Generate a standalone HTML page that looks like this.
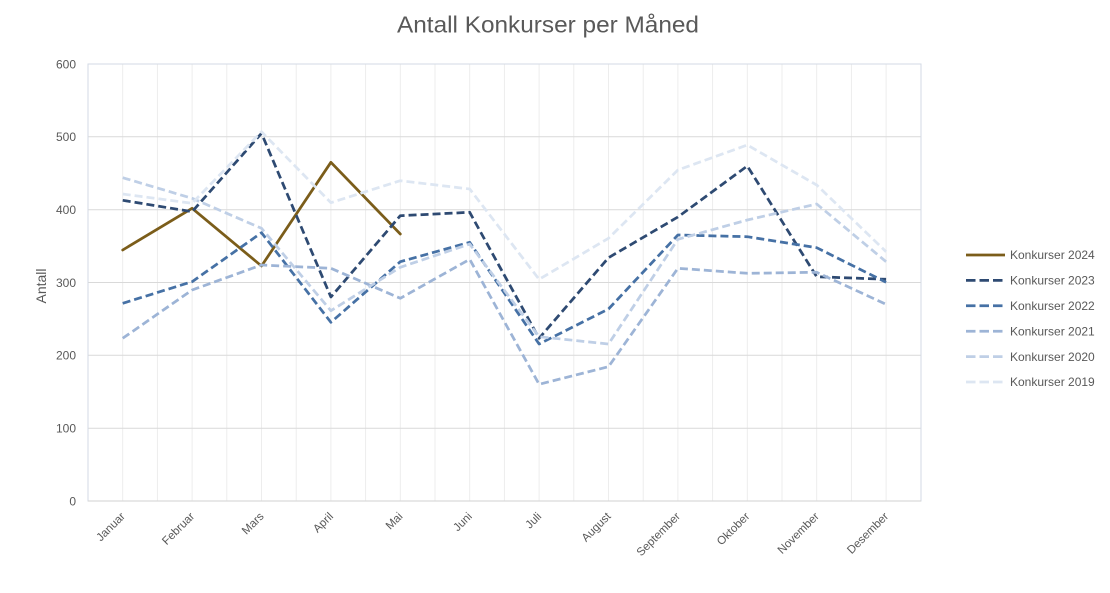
<!DOCTYPE html>
<html>
<head>
<meta charset="utf-8">
<style>
  html, body { margin:0; padding:0; background:#ffffff; }
  body { width:1110px; height:593px; overflow:hidden; }
  svg { display:block; font-family:"Liberation Sans", Arial, sans-serif; }
</style>
</head>
<body>
<svg width="1110" height="593" viewBox="0 0 1110 593" xmlns="http://www.w3.org/2000/svg">
  <rect x="0" y="0" width="1110" height="593" fill="#ffffff"/>

  <!-- Title -->
  <text x="548" y="32.5" text-anchor="middle" font-size="23" fill="#595959" textLength="302" lengthAdjust="spacingAndGlyphs">Antall Konkurser per Måned</text>

  <!-- vertical gridlines -->
  <g stroke="#EDEDED" stroke-width="1">
    <line x1="122.7" y1="64" x2="122.7" y2="501"/>
    <line x1="157.4" y1="64" x2="157.4" y2="501"/>
    <line x1="192.1" y1="64" x2="192.1" y2="501"/>
    <line x1="226.8" y1="64" x2="226.8" y2="501"/>
    <line x1="261.5" y1="64" x2="261.5" y2="501"/>
    <line x1="296.2" y1="64" x2="296.2" y2="501"/>
    <line x1="330.9" y1="64" x2="330.9" y2="501"/>
    <line x1="365.6" y1="64" x2="365.6" y2="501"/>
    <line x1="400.3" y1="64" x2="400.3" y2="501"/>
    <line x1="435.0" y1="64" x2="435.0" y2="501"/>
    <line x1="469.7" y1="64" x2="469.7" y2="501"/>
    <line x1="504.4" y1="64" x2="504.4" y2="501"/>
    <line x1="539.1" y1="64" x2="539.1" y2="501"/>
    <line x1="573.8" y1="64" x2="573.8" y2="501"/>
    <line x1="608.5" y1="64" x2="608.5" y2="501"/>
    <line x1="643.2" y1="64" x2="643.2" y2="501"/>
    <line x1="677.9" y1="64" x2="677.9" y2="501"/>
    <line x1="712.6" y1="64" x2="712.6" y2="501"/>
    <line x1="747.3" y1="64" x2="747.3" y2="501"/>
    <line x1="782.0" y1="64" x2="782.0" y2="501"/>
    <line x1="816.7" y1="64" x2="816.7" y2="501"/>
    <line x1="851.4" y1="64" x2="851.4" y2="501"/>
    <line x1="886.1" y1="64" x2="886.1" y2="501"/>
  </g>

  <!-- horizontal gridlines -->
  <g stroke="#D9D9D9" stroke-width="1">
    <line x1="88" y1="428.2" x2="921" y2="428.2"/>
    <line x1="88" y1="355.3" x2="921" y2="355.3"/>
    <line x1="88" y1="282.5" x2="921" y2="282.5"/>
    <line x1="88" y1="209.7" x2="921" y2="209.7"/>
    <line x1="88" y1="136.8" x2="921" y2="136.8"/>
  </g>

  <!-- plot border -->
  <rect x="88" y="64" width="833" height="437" fill="none" stroke="#D3DAE4" stroke-width="1"/>
  <line x1="88" y1="501" x2="921" y2="501" stroke="#D9D9D9" stroke-width="1.2"/>

  <!-- Y tick labels -->
  <g font-size="12" fill="#595959" text-anchor="end">
    <text x="76" y="505.3">0</text>
    <text x="76" y="432.5">100</text>
    <text x="76" y="359.6">200</text>
    <text x="76" y="286.8">300</text>
    <text x="76" y="214">400</text>
    <text x="76" y="141.1">500</text>
    <text x="76" y="68.3">600</text>
  </g>

  <!-- Y axis title -->
  <text transform="translate(46,286) rotate(-90)" text-anchor="middle" font-size="14" fill="#595959">Antall</text>

  <!-- X labels -->
  <g font-size="11.5" fill="#595959" text-anchor="end">
    <text transform="translate(125.7,517) rotate(-45)">Januar</text>
    <text transform="translate(195.1,517) rotate(-45)">Februar</text>
    <text transform="translate(264.5,517) rotate(-45)">Mars</text>
    <text transform="translate(333.9,517) rotate(-45)">April</text>
    <text transform="translate(403.3,517) rotate(-45)">Mai</text>
    <text transform="translate(472.7,517) rotate(-45)">Juni</text>
    <text transform="translate(542.1,517) rotate(-45)">Juli</text>
    <text transform="translate(611.5,517) rotate(-45)">August</text>
    <text transform="translate(680.9,517) rotate(-45)">September</text>
    <text transform="translate(750.3,517) rotate(-45)">Oktober</text>
    <text transform="translate(819.7,517) rotate(-45)">November</text>
    <text transform="translate(889.1,517) rotate(-45)">Desember</text>
  </g>

  <!-- Series -->
  <g fill="none" stroke-linejoin="round">
    <polyline stroke="#7B5D1A" stroke-width="2.75" stroke-linecap="round"
      points="122.7,250 192.1,208.3 261.5,266 330.9,162.3 400.3,234"/>
    <polyline stroke="#2E4A72" stroke-width="2.75" stroke-dasharray="8 4"
      points="122.7,200.3 192.1,211.7 261.5,133.3 330.9,297 400.3,215.7 469.7,212.3 539.1,338.3 608.5,257.7 677.9,217 747.3,166 816.7,276.7 886.1,279.3"/>
    <polyline stroke="#4671A5" stroke-width="2.75" stroke-dasharray="8 4"
      points="122.7,303.3 192.1,281.7 261.5,232.7 330.9,322.3 400.3,261.7 469.7,242.3 539.1,344 608.5,309 677.9,235 747.3,236.7 816.7,247.7 886.1,282.3"/>
    <polyline stroke="#9DB4D6" stroke-width="2.75" stroke-dasharray="8 4"
      points="122.7,338.3 192.1,290 261.5,265 330.9,268.3 400.3,298.3 469.7,259.3 539.1,384.3 608.5,366.7 677.9,268.3 747.3,273.3 816.7,272.3 886.1,304.3"/>
    <polyline stroke="#BFCFE6" stroke-width="2.75" stroke-dasharray="8 4"
      points="122.7,177.7 192.1,198.3 261.5,228.3 330.9,310.7 400.3,267.3 469.7,244 539.1,336.7 608.5,344 677.9,239.3 747.3,220 816.7,204 886.1,261.7"/>
    <polyline stroke="#DDE6F2" stroke-width="2.75" stroke-dasharray="8 4"
      points="122.7,194 192.1,203.3 261.5,131.7 330.9,202.7 400.3,180.7 469.7,189 539.1,279.3 608.5,238.3 677.9,170 747.3,145 816.7,185 886.1,251.7"/>
  </g>

  <!-- Legend -->
  <g stroke-width="2.75" fill="none">
    <line x1="966" y1="255" x2="1005" y2="255" stroke="#7B5D1A"/>
    <line x1="966" y1="280.4" x2="1005" y2="280.4" stroke="#2E4A72" stroke-dasharray="9.5 4"/>
    <line x1="966" y1="305.8" x2="1005" y2="305.8" stroke="#4671A5" stroke-dasharray="9.5 4"/>
    <line x1="966" y1="331.2" x2="1005" y2="331.2" stroke="#9DB4D6" stroke-dasharray="9.5 4"/>
    <line x1="966" y1="356.6" x2="1005" y2="356.6" stroke="#BFCFE6" stroke-dasharray="9.5 4"/>
    <line x1="966" y1="382" x2="1005" y2="382" stroke="#DDE6F2" stroke-dasharray="9.5 4"/>
  </g>
  <g font-size="12" fill="#595959">
    <text x="1010" y="259.2">Konkurser 2024</text>
    <text x="1010" y="284.6">Konkurser 2023</text>
    <text x="1010" y="310">Konkurser 2022</text>
    <text x="1010" y="335.4">Konkurser 2021</text>
    <text x="1010" y="360.8">Konkurser 2020</text>
    <text x="1010" y="386.2">Konkurser 2019</text>
  </g>
</svg>
</body>
</html>
